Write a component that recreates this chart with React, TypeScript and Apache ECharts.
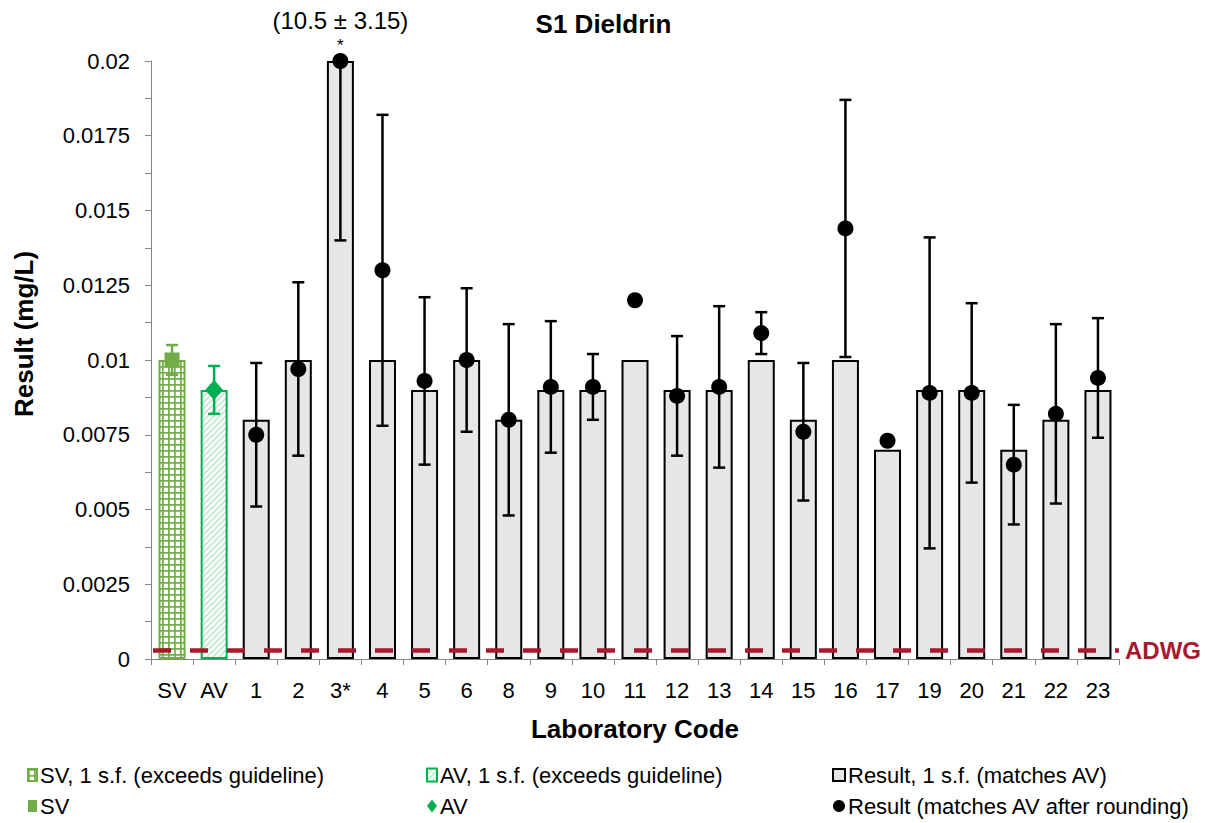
import React, { useEffect, useRef } from "react";
import * as echarts from "echarts";

const categories = ["SV", "AV", "1", "2", "3*", "4", "5", "6", "8", "9", "10", "11", "12", "13", "14", "15", "16", "17", "19", "20", "21", "22", "23"];
const labCodes = ["1", "2", "3*", "4", "5", "6", "8", "9", "10", "11", "12", "13", "14", "15", "16", "17", "19", "20", "21", "22", "23"];
// values as plotted (lab 3* is off-scale: 10.5 ± 3.15, drawn at the axis maximum)
const labRounded = [0.008, 0.01, 0.02, 0.01, 0.009, 0.01, 0.008, 0.009, 0.009, 0.01, 0.009, 0.009, 0.01, 0.008, 0.01, 0.007, 0.009, 0.009, 0.007, 0.008, 0.009];
const labResults = [0.0075, 0.0097, 0.02, 0.013, 0.0093, 0.01, 0.008, 0.0091, 0.0091, 0.012, 0.0088, 0.0091, 0.0109, 0.0076, 0.0144, 0.0073, 0.0089, 0.0089, 0.0065, 0.0082, 0.0094];
const labUncertainty = [0.0024, 0.0029, 0.006, 0.0052, 0.0028, 0.0024, 0.0032, 0.0022, 0.0011, null, 0.002, 0.0027, 0.0007, 0.0023, 0.0043, null, 0.0052, 0.003, 0.002, 0.003, 0.002];
const svValue = 0.01;
const svRounded = 0.01;
const svUncertainty = 0.0005;
const avValue = 0.009;
const avRounded = 0.009;
const avUncertainty = 0.0008;
const adwg = 0.0003;
const yTicks = { min: 0, max: 0.02, interval: 0.0025 };

const SV_GREEN = "#70ad47";
const AV_GREEN = "#00b050";
const ADWG_RED = "#a6192e";
const FONT = "Liberation Sans, Arial, sans-serif";

function gridPattern() {
  const c = document.createElement("canvas");
  c.width = 6;
  c.height = 6;
  const g = c.getContext("2d")!;
  g.fillStyle = "#ffffff";
  g.fillRect(0, 0, 6, 6);
  g.fillStyle = SV_GREEN;
  g.fillRect(0, 0, 6, 1.7);
  g.fillRect(0, 0, 1.7, 6);
  return c;
}

function hatchPattern() {
  const c = document.createElement("canvas");
  c.width = 6;
  c.height = 6;
  const g = c.getContext("2d")!;
  g.fillStyle = "#ffffff";
  g.fillRect(0, 0, 6, 6);
  g.strokeStyle = "#bfe8cf";
  g.lineWidth = 1.6;
  g.beginPath();
  g.moveTo(-1, 7);
  g.lineTo(7, -1);
  g.moveTo(-4, 4);
  g.lineTo(4, -4);
  g.moveTo(2, 10);
  g.lineTo(10, 2);
  g.stroke();
  return c;
}

function legendBox(left: number, names: any[], w: number, h: number) {
  return {
    left,
    top: 764,
    orient: "vertical",
    padding: 0,
    itemGap: 9,
    itemWidth: w,
    itemHeight: h,
    textStyle: { fontFamily: FONT, fontSize: 22, color: "#000", lineHeight: 22, padding: [0, 0, 0, -2] },
    data: names,
    selectedMode: false,
  };
}

export default function App() {
  const ref = useRef<HTMLDivElement>(null);
  useEffect(() => {
    document.body.style.margin = "0";
    const chart = echarts.init(ref.current!, null, { renderer: "svg" });
    const n = categories.length;
    const empty = () => new Array(n).fill("-");

    const svBar: any[] = empty();
    svBar[0] = svRounded;
    const avBar: any[] = empty();
    avBar[1] = avRounded;
    const resBar: any[] = empty();
    labCodes.forEach((c, i) => (resBar[categories.indexOf(c)] = labRounded[i]));

    const errData: any[] = [];
    const errColors: string[] = [];
    errData.push([0, svValue - svUncertainty, svValue + svUncertainty]);
    errColors.push(SV_GREEN);
    errData.push([1, avValue - avUncertainty, avValue + avUncertainty]);
    errColors.push(AV_GREEN);
    labCodes.forEach((c, i) => {
      const u = labUncertainty[i];
      if (u != null) {
        errData.push([categories.indexOf(c), labResults[i] - u, labResults[i] + u]);
        errColors.push("#000000");
      }
    });

    const resPoints = labCodes.map((c, i) => [categories.indexOf(c), labResults[i]]);

    const barW = 27;
    chart.setOption({
      animation: false,
      textStyle: { fontFamily: FONT, color: "#000" },
      title: {
        text: "S1 Dieldrin",
        left: "center",
        top: 6,
        textStyle: { fontFamily: FONT, fontSize: 26, fontWeight: "bold", color: "#000" },
      },
      legend: [
        legendBox(27, [{ name: "SV, 1 s.f. (exceeds guideline)", icon: "rect" }, { name: "SV" }], 9, 12),
        legendBox(426, [{ name: "AV, 1 s.f. (exceeds guideline)", icon: "rect" }, { name: "AV" }], 10, 13),
        legendBox(832, [{ name: "Result, 1 s.f. (matches AV)", icon: "rect" }, { name: "Result (matches AV after rounding)" }], 12, 12),
      ],
      grid: { left: 151, right: 88, top: 61, bottom: 164, containLabel: false },
      xAxis: {
        type: "category",
        data: categories,
        boundaryGap: true,
        axisLine: { lineStyle: { color: "#868686", width: 1 } },
        axisTick: { show: true, length: 6, lineStyle: { color: "#868686" } },
        axisLabel: { fontFamily: FONT, fontSize: 22, color: "#000", margin: 20, interval: 0 },
        name: "Laboratory Code",
        nameLocation: "middle",
        nameGap: 57,
        nameTextStyle: { fontFamily: FONT, fontSize: 26, fontWeight: "bold", color: "#000" },
      },
      yAxis: {
        type: "value",
        min: yTicks.min,
        max: yTicks.max,
        interval: yTicks.interval,
        splitLine: { show: false },
        axisLine: { show: true, lineStyle: { color: "#868686", width: 1 } },
        axisTick: { show: true, length: 6, lineStyle: { color: "#868686" } },
        minorTick: { show: true, splitNumber: 2, length: 6, lineStyle: { color: "#868686" } },
        axisLabel: {
          fontFamily: FONT,
          fontSize: 22,
          color: "#000",
          margin: 21,
          formatter: (v: number) => String(parseFloat(v.toFixed(5))),
        },
        name: "Result (mg/L)",
        nameLocation: "middle",
        nameRotate: 90,
        nameGap: 114,
        nameTextStyle: { fontFamily: FONT, fontSize: 26, fontWeight: "bold", color: "#000", padding: [0, 0, 0, 52] },
      },
      series: [
        {
          name: "SV, 1 s.f. (exceeds guideline)",
          type: "bar",
          stack: "bars",
          barWidth: barW,
          data: svBar,
          itemStyle: { color: { image: gridPattern(), repeat: "repeat" }, borderColor: SV_GREEN, borderWidth: 2 },
          z: 2,
        },
        {
          name: "AV, 1 s.f. (exceeds guideline)",
          type: "bar",
          stack: "bars",
          barWidth: barW,
          data: avBar,
          itemStyle: { color: { image: hatchPattern(), repeat: "repeat" }, borderColor: AV_GREEN, borderWidth: 2 },
          z: 2,
        },
        {
          name: "Result, 1 s.f. (matches AV)",
          type: "bar",
          stack: "bars",
          barWidth: barW,
          data: resBar,
          itemStyle: { color: "#e6e6e6", borderColor: "#000", borderWidth: 2 },
          z: 2,
        },
        {
          name: "errors",
          type: "custom",
          clip: true,
          z: 3,
          data: errData,
          encode: { x: 0, y: [1, 2] },
          renderItem: (params: any, api: any) => {
            const x = api.value(0);
            const lo = api.coord([x, api.value(1)]);
            const hi = api.coord([x, api.value(2)]);
            const color = errColors[params.dataIndex];
            const cw = 6;
            const st = { stroke: color, lineWidth: 2.5 };
            return {
              type: "group",
              children: [
                { type: "line", shape: { x1: hi[0], y1: hi[1], x2: lo[0], y2: lo[1] }, style: st },
                { type: "line", shape: { x1: hi[0] - cw, y1: hi[1], x2: hi[0] + cw, y2: hi[1] }, style: st },
                { type: "line", shape: { x1: lo[0] - cw, y1: lo[1], x2: lo[0] + cw, y2: lo[1] }, style: st },
              ],
            };
          },
        },
        {
          name: "SV",
          type: "scatter",
          clip: false,
          z: 4,
          symbol: "rect",
          symbolSize: 15,
          itemStyle: { color: SV_GREEN, opacity: 1 },
          data: [[0, svValue]],
        },
        {
          name: "AV",
          type: "scatter",
          clip: false,
          z: 4,
          symbol: "diamond",
          symbolSize: [18, 20],
          itemStyle: { color: AV_GREEN, opacity: 1 },
          data: [[1, avValue]],
        },
        {
          name: "Result (matches AV after rounding)",
          type: "scatter",
          clip: false,
          z: 4,
          symbol: "circle",
          symbolSize: 16,
          itemStyle: { color: "#000", opacity: 1 },
          data: resPoints,
          markPoint: {
            silent: true,
            symbol: "circle",
            symbolSize: 0,
            data: [{ coord: ["3*", 0.02] }],
            label: {
              show: true,
              position: "top",
              distance: 8,
              formatter: "{a|(10.5 ± 3.15)}\n{b|*}",
              rich: {
                a: { fontFamily: FONT, fontSize: 24, color: "#000", lineHeight: 34 },
                b: { fontFamily: FONT, fontSize: 17, color: "#000", lineHeight: 16 },
              },
            },
          },
          markLine: {
            silent: true,
            symbol: "none",
            precision: 6,
            z: 6,
            data: [{ yAxis: adwg }],
            lineStyle: { color: ADWG_RED, width: 4.5, type: [18, 19], dashOffset: -2, cap: "butt", opacity: 1 },
            label: {
              show: true,
              position: "end",
              formatter: "ADWG",
              color: ADWG_RED,
              fontFamily: FONT,
              fontWeight: "bold",
              fontSize: 24,
              distance: 6,
            },
          },
        },
      ],
    });
    return () => chart.dispose();
  }, []);
  return <div ref={ref} style={{ width: 1207, height: 823 }} />;
}
